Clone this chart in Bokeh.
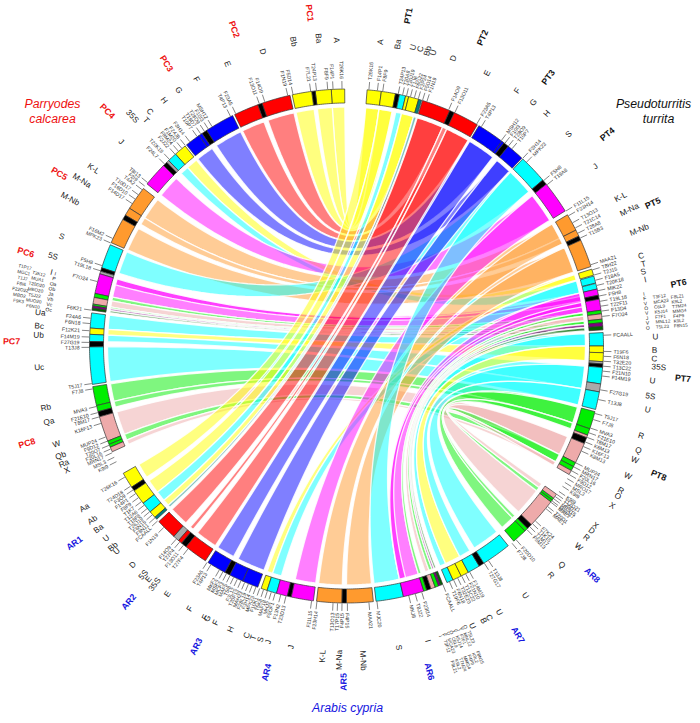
import numpy as np
from bokeh.plotting import figure, ColumnDataSource
from bokeh.core.properties import value
from bokeh.embed import file_html
from bokeh.resources import INLINE

Y, R, B, C, M, O, G = "#ffff00", "#ff0000", "#0000ff", "#00ffff", "#ff00ff", "#ff9a2e", "#00ee00"
P, K, S, U, T, D = "#eeaaaa", "#000000", "#aaaaaa", "#800080", "#008080", "#006600"

# block edges, degrees clockwise from the top of the circle
PC_PHI = [(0.4,3.4),(3.4,7.0),(7.0,7.8),(7.8,12.2),(12.7,19.2),(19.2,20.2),(20.2,25.8),(26.3,33.0),(33.0,34.2),
          (34.2,35.0),(35.0,38.5),(38.9,41.7),(41.7,43.8),(43.8,44.4),(44.4,45.4),(45.4,50.9),(52.2,57.6),(57.6,59.4),
          (59.4,60.5),(60.5,66.3),(66.8,72.3),(72.3,73.1),(73.1,73.7),(73.7,78.2),(78.2,79.1),(79.1,80.6),(80.6,81.0),
          (81.0,81.5),(81.5,82.0),(82.6,86.0),(86.0,87.4),(87.4,89.0),(89.0,90.2),(90.2,98.6),(99.1,103.4),(103.4,104.8),
          (104.8,106.0),(106.0,111.7),(111.7,112.5),(112.5,113.2),(113.2,114.3)]
PC_COL = [Y,Y,K,Y,R,K,R,B,K,B,B,Y,C,S,K,M,O,O,K,O,C,K,S,M,G,P,G,U,D,C,Y,C,K,C,G,G,K,P,G,G,P]

PT_THETA = [(4.6,7.8),(7.8,11.0),(11.0,11.9),(11.9,13.3),(13.3,14.0),(14.0,16.3),(16.3,17.0),(17.2,23.7),(23.7,24.8),
            (24.8,30.6),(31.0,37.2),(37.2,37.8),(37.8,39.0),(39.0,43.0),(43.3,49.8),(49.8,51.0),(51.0,58.3),(59.3,63.2),
            (63.2,64.7),(64.7,65.7),(65.7,72.0),(72.6,74.0),(74.2,75.8),(75.9,77.2),(77.2,78.6),(78.6,79.5),(79.5,82.0),
            (82.0,82.8),(82.8,84.0),(84.0,84.8),(84.8,85.6),(85.6,86.4),(87.0,90.0),(90.0,91.5),(91.5,93.5),(93.5,94.0),
            (94.0,94.8),(94.8,98.5),(98.5,100.3),(100.3,104.3),(104.8,108.8),(108.8,110.3),(110.3,110.9),(110.9,112.3),
            (112.3,117.0),(117.0,118.0),(118.0,119.0),(119.0,120.0)]
PT_COL = [Y,Y,K,C,Y,Y,T,R,K,R,B,B,K,B,C,K,M,O,O,K,O,Y,C,C,M,K,M,G,P,G,U,D,C,Y,Y,S,K,C,S,C,G,G,P,K,P,G,G,P]

AR_THETA = [(240.3,236.7),(236.7,235.7),(235.7,232.3),(232.3,229.8),(229.8,228.2),(228.2,227.6),(226.9,222.2),(222.2,220.8),
            (220.8,219.9),(219.9,218.6),(218.6,213.3),(212.6,208.2),(208.2,207.0),(207.0,203.8),(203.8,200.2),(199.4,198.0),
            (198.0,195.8),(195.8,193.3),(193.3,192.4),(192.4,187.4),(186.7,181.0),(181.0,180.0),(180.0,174.0),(173.4,167.2),
            (167.2,162.5),(162.5,161.8),(161.8,160.8),(160.8,159.8),(159.8,159.0),(159.0,158.5),(158.5,158.0),(157.0,155.5),
            (155.5,153.5),(153.5,151.7),(151.7,148.9),(148.9,147.7),(147.7,141.0),(139.4,136.0),(136.0,135.2),(135.2,134.0),
            (134.0,127.3),(127.3,126.8),(126.8,126.3),(126.3,125.2)]
AR_COL = [Y,K,Y,C,Y,T,R,S,R,K,R,B,K,B,B,Y,C,M,K,M,O,K,O,C,M,G,K,P,G,U,D,C,Y,Y,C,K,C,G,G,K,P,G,G,P]

# which blocks are joined: first,last block in one genome and first,last block in Pseudoturritis
PC_LINKS = [(0,0,0,0),(1,1,1,1),(3,3,4,5),(4,4,7,7),(6,6,9,9),(7,7,10,11),(9,10,13,13),(11,11,21,21),(12,12,22,23),
            (15,15,16,16),(16,16,17,17),(17,17,18,18),(19,19,20,20),(20,20,14,14),(23,23,24,26),(24,24,27,27),(25,25,28,28),
            (26,26,29,29),(27,27,30,30),(28,28,31,31),(29,29,32,32),(30,30,33,34),(31,31,37,38),(33,33,39,39),(34,34,40,40),
            (35,35,41,41),(37,37,44,44),(38,39,45,46),(40,40,47,47)]
AR_LINKS = [(0,0,0,0),(2,2,1,1),(3,3,3,3),(4,4,4,5),(5,5,6,6),(6,6,7,7),(8,8,8,8),(10,10,9,9),(11,11,10,11),(13,14,13,13),
            (15,15,21,21),(16,16,22,23),(19,19,16,16),(20,20,17,18),(22,22,20,20),(23,23,14,14),(24,24,24,26),(25,25,27,27),
            (27,27,28,28),(28,28,29,29),(29,29,30,30),(30,30,31,31),(31,31,32,32),(32,33,33,34),(34,34,37,38),(36,36,39,39),
            (37,37,40,40),(38,38,41,41),(40,40,44,44),(41,42,45,46),(43,43,47,47)]
# darker magenta bands: (outer span, Pseudoturritis span)
PC_BAND = [(360-73.7,360-75.2,78.0,79.2)]
AR_BAND = [(167.2,165.7,79.5,80.6)]

PC_GROUPS = ["PC1","PC2","PC3","PC4","PC5","PC6","PC7","PC8"]
PC_GROUP_PHI = [6.3,19.5,32.5,45.5,59,73.7,89.2,106.9]
PT_GROUPS = ["PT1","PT2","PT3","PT4","PT5","PT6","PT7","PT8"]
PT_GROUP_T = [10.6,23.8,36.9,50.9,65,79.3,95.5,112.5]
AR_GROUPS = ["AR1","AR2","AR3","AR4","AR5","AR6","AR7","AR8"]
AR_GROUP_T = [234.1,220.4,206.6,193.8,180.5,165.7,149.3,133]

PC_LET = ["A","Ba","Bb","D","E","F","G","H","C","T","35S","J","K-L","M-Na","M-Nb","S","5S","I","Ua","Bc","Ub","Uc","Rb","Qa","W","Qb","Ra","X"]
PC_LET_PHI = [1.9,5.2,9.9,15.9,22.9,29.4,33.3,36.6,40,41.6,43,47.8,55,58,62,69,73,76,83.8,86.3,88,94,101.6,104.3,108.7,111,112.6,114]
PC_LET_R = [306,309,309,306,306,306,306,306,306,302,314,304,309,312,313,305,307,304,308,308,308,308,307,307,306,306,306,306]
PT_LET = ["A","Ba","U","C","Bb","U","D","E","F","G","H","S","J","K-L","M-Na","M-Nb","C","T","S","I","U","B","C","35S","U","5S","U","R","Q","W","W","R","O","X"]
PT_LET_T = [6.4,9.7,12.6,14,15.4,16.5,20.4,27.3,33.8,37.5,40.8,46.4,54.2,61.5,64.3,68.4,73,74.6,76,77.5,88.3,90.8,92.4,93.9,96.5,99.4,102,107,109.7,111.6,114.8,117.8,119,121]
PT_LET_R = [306,306,306,306,306,306,307,307,307,307,307,307,307,312,314,315,308,308,306,306,309,308,308,313,308,308,308,308,310,310,310,310,310,310]
AR_LET = ["Aa","Ab","Ba","U","Bb","U","D","5S","E","35S","E","F","F","G","F","H","C","T","S","J","J","K-L","M-Na","M-Nb","S","I","U","B","C","U","U","R","Q","W","R","D","X"]
AR_LET_T = [238.3,235.6,233.6,231.3,229.3,228.2,224.3,221.6,220.3,218.8,215.8,210.8,207.5,207,205.3,202.2,199,197.7,196.3,194.8,190.4,184.4,181.3,177,170.2,164.6,155.8,153.5,152.3,150.2,144.4,138.3,135.5,130.9,128.6,127,125.8]
AR_LET_R = [308]*6+[306]*15+[311,314,315,306,306]+[307]*11

PC_GENES = ["T26K16","F14P1","F8F9","T24P13","F7L21","F5D14","F1N19","F14O9","F13O11","F23A5","T4P13","MSH12","F10I3","T28O9","T19D7","T10P7",
            "F3H14","F24J8","F1M20","F8M24","F2J22","T20K18","F24L7","T8I13","F2I9","T4A2","T10D17","F16D10","F14D17","F16M2","MPK23","F5H8","T19L18",
            "F7O24","F6K21","F24A6","F6N18","F12K21","F14M19","F27G19","T13J8","T5J17","F7J8","MVA3","F21E10","T8M17","K16F13","MUP24","F9D12","T20O7","F20L16","MRN17","MSL3","K9I9"]
PC_GENE_PHI = [1,3,4.2,6.7,8,12,13.2,18.5,19.8,25.5,26.8,31.5,32.5,33.5,34.5,35.5,37.5,38.8,39.8,40.8,41.8,43.5,45,50.6,51.6,52.6,54,55.2,56.4,65.3,66.4,71.8,73,
               75.5,82,83.8,85,86.6,88,89.2,90.3,98.4,99.6,103.6,105,106,107.5,110.7,111.7,112.7,113.6,114.5,115.6,116.7]
PT_GENES = ["T26K16","F14P1","F8F9","T24P13","T20A8","T20J19","T1J8","F6G22","F2P24","F5D14","F1N19","F14O9","F13O11","F23A5","T4P13","MSH12","F10I3","T28O9","T10P7",
            "F3H14","MPK23","F5H8","T19A8","F11L15","F23H14","T13O13","T21C14","T28A8","T15B3","MAA21","T8H22","T2J15","F18A5","T20K18","MIK22","F5H8","T19L18","T22F11","F13D4","F7O24",
            "FCAALL","T19F6","F6N18","T32E20","T13C22","F21N10","F14M19","F27G19","T13J8","T5J17","F7J8","MVA3","F21E10","T8M17","K6M13","K16F13","K8M13","MUP24","MRN17","F20L16","F9D12","MRO17","MSL3","K9I9"]
PT_GENE_T = [5,6.9,8.1,11.6,12.6,13.5,14.4,15.3,16.2,17.2,18.2,23.4,24.9,30.4,31.6,37,38,39,40,
             43.2,44.4,50,51.2,58.4,59.6,61.4,62.7,64,65.2,71.6,72.8,74,75.2,76.4,77.6,78.8,80,81.1,82.2,83.4,
             87.6,91.2,92.3,93.4,94.5,95.6,96.7,99.8,102,105.2,106.6,108.6,109.7,110.8,111.9,113,114.1,117,118,119,120,121,122,123]
AR_GENES = ["T26K16","T24D18","F3O9","F14P1","F8F9","T1K7","T12A6","T18F8","T26J19","F6N15","F8N11","FCAALL","F1N19","F14O9","T27P4","F13O11","T27F4",
            "F23A5","T4P13","MKF2","MSF2","MCF3","MAF5","T5I8","F3L12","T20F13","MAH23","F28L19","F3H14","MPK23","F10K1","T5K8","MAF18","MHJ2","F5OF1","F13N2","T23D13",
            "F11L15","F23H14","T13O13","T17P15","F4P15","F4P15","MAA21","MJC20","MKJ8","T8J22","F23I14","FCAALL","T19F6","F6N18","T32E20","T13C22","F21N10","F14M19","T27G17","T13J8",
            "F7J8","F20D10","F5M13","T1M17","T1K15","F7K24","MAE1","T20D1","MAE1","MRO17","MRN15","T20D7","T12O21","K9I9"]
AR_GENE_T = [239.4,237,236,235,233.9,232.8,231.8,230.8,229.9,229,228.1,227.2,225.2,221.4,220.4,219.3,218,
             212.8,211.8,209.6,208.7,207.8,206.9,206,205.1,204.2,203.3,202.4,201.5,200.6,199.7,198.8,197.9,197,196.1,194.8,193.6,
             187.8,186.6,183,182,181,179.8,175,173.2,166,164.5,163,158,156.4,155.4,154.4,153.4,152.4,151.4,147.6,146.5,
             140,138.8,135.5,134.6,133.7,132.8,129.2,128.6,127.4,127,126.4,125.8,125.2,124.4]

SIDE_L = ["I","P","Oa","Ob","Ja","Vb","Vc","Oc"]
SIDE_C2 = ["T3K12","MUA1","T20D20","MBO20","T5J22","MUO20","F6N10"]
SIDE_C1 = ["T1P17","MGC1","T1J7","F8I6","F22O22","MBD2","F9K3"]
PT_SIDE_L = ["I","F","V","O","V","J","V","O"]
PT_SIDE_C2 = ["T3F12","MCA23","C6L9","K5J14","F7F1","MNL12","T5L23"]
PT_SIDE_C3 = ["F8L21","K9L2","T7M24","MMG4","F4P9","K9L2","F8N15"]
AR_SIDE_L = ["I","F","V","O","V","J","V","O"]
AR_SIDE_C2 = ["T3F12","MCA23","C6L9","K5J14","F7F1","MNL12","T5L23"]
AR_SIDE_C3 = ["F8L21","K9L2","T7M24","MMG4","F4P9","K9L2","F8N15"]

W, H = 692, 715
CX, CY = 346.0, 377.5
R_OUT, R_IN, R_RIB = 257.0, 243.0, 239.0

def pol(t, r):
    a = np.radians(t)
    return CX + r*np.sin(a), CY + r*np.cos(a)

def arc(t0, t1, r):
    n = max(2, int(abs(t1-t0)*2)+2)
    return pol(np.linspace(t0, t1, n), r)

def bez(t0, t1):
    x0, y0 = pol(t0, R_RIB); x2, y2 = pol(t1, R_RIB)
    s = np.linspace(0, 1, 50)
    return (1-s)**2*x0+2*s*(1-s)*CX+s**2*x2, (1-s)**2*y0+2*s*(1-s)*CY+s**2*y2

def ribbon(a0, a1, b0, b1):
    xa, ya = arc(a0, a1, R_RIB)
    x1, y1 = bez(a1, b1)
    xb, yb = arc(b1, b0, R_RIB)
    x2, y2 = bez(b0, a0)
    return np.concatenate([xa,x1,xb,x2]).tolist(), np.concatenate([ya,y1,yb,y2]).tolist()

p = figure(width=W, height=H, x_range=(0, 692), y_range=(8, 723), output_backend="svg",
           toolbar_location=None, min_border=0)
p.axis.visible = False
p.grid.visible = False
p.outline_line_color = None
p.background_fill_color = "white"

PC_T = [(360-a, 360-b) for a, b in PC_PHI]
xs, ys, cs = [], [], []
for first, last, pf, pl in PC_LINKS:
    x, y = ribbon(PC_T[first][0], PC_T[last][1], PT_THETA[pf][0], PT_THETA[pl][1])
    xs.append(x); ys.append(y); cs.append(PC_COL[first])
for a0, a1, b0, b1 in PC_BAND:
    x, y = ribbon(a0, a1, b0, b1); xs.append(x); ys.append(y); cs.append(M)
for first, last, pf, pl in AR_LINKS:
    x, y = ribbon(AR_THETA[first][0], AR_THETA[last][1], PT_THETA[pf][0], PT_THETA[pl][1])
    xs.append(x); ys.append(y); cs.append(AR_COL[first])
for a0, a1, b0, b1 in AR_BAND:
    x, y = ribbon(a0, a1, b0, b1); xs.append(x); ys.append(y); cs.append(M)
p.patches(xs, ys, fill_color=cs, fill_alpha=0.5, line_color="white", line_width=1.3, line_alpha=0.85)

xs, ys, cs = [], [], []
for spans, cols in ((PC_T, PC_COL), (PT_THETA, PT_COL), (AR_THETA, AR_COL)):
    for (a, b), col in zip(spans, cols):
        xo, yo = arc(a, b, R_OUT); xi, yi = arc(b, a, R_IN)
        xs.append(np.concatenate([xo, xi]).tolist()); ys.append(np.concatenate([yo, yi]).tolist()); cs.append(col)
p.patches(xs, ys, fill_color=cs, line_color="#333333", line_width=0.7)

def radial(labels, thetas, rs, size, color, style="normal", mode="center", font="Liberation Sans"):
    rs = np.full(len(labels), rs, dtype=float) if np.isscalar(rs) else np.array(rs, dtype=float)
    thetas = np.array(thetas, dtype=float)
    right = thetas < 180
    for side in (True, False):
        m = right == side
        if not m.any():
            continue
        x, y = pol(thetas[m], rs[m])
        ang = np.radians(90-thetas[m]) if side else np.radians(270-thetas[m])
        src = ColumnDataSource(dict(x=x, y=y, t=[l for l, k in zip(labels, m) if k], a=ang))
        al = mode if mode == "center" else ("left" if side else "right")
        p.text("x", "y", text="t", angle="a", source=src, text_font=value(font), text_font_size=size,
               text_color=color, text_font_style=style, text_align=al, text_baseline="middle")

def ticks(thetas):
    t = np.array(thetas, dtype=float)
    x0, y0 = pol(t, R_OUT+0.5); x1, y1 = pol(t, R_OUT+8)
    p.segment(x0, y0, x1, y1, line_color="#333333", line_width=0.6)

pc_gene_t = [360-a for a in PC_GENE_PHI]
ticks(pc_gene_t); ticks(PT_GENE_T); ticks(AR_GENE_T)
radial(PC_GENES, pc_gene_t, 267, "5.2px", "#333333", mode="out")
radial(PT_GENES, PT_GENE_T, 267, "5.2px", "#333333", mode="out")
radial(AR_GENES, AR_GENE_T, 267, "5.2px", "#333333", mode="out")

radial(PC_LET, [360-a for a in PC_LET_PHI], PC_LET_R, "8.2px", "#222222")
radial(PT_LET, PT_LET_T, PT_LET_R, "8.2px", "#222222")
radial(AR_LET, AR_LET_T, AR_LET_R, "8.2px", "#222222")

radial(PC_GROUPS, [360-a for a in PC_GROUP_PHI], [335,336,335,335,335,334,335,334], "8.8px", "#ee1111", "bold")
radial(PT_GROUPS, PT_GROUP_T, [336,337,336,336,338,338,338,338], "8.8px", "#111111", "bold")
radial(AR_GROUPS, AR_GROUP_T, 336, "8.8px", "#1515e0", "bold")

radial(SIDE_L, [360-a for a in np.linspace(76.0, 83.0, 8)], 300, "5px", "#222222")
radial(SIDE_C2, [360-a for a in np.linspace(76.8, 82.8, 7)], 316, "4.6px", "#333333")
radial(SIDE_C1, [360-a for a in np.linspace(76.2, 82.2, 7)], 331, "4.6px", "#333333")
radial(PT_SIDE_L, np.linspace(80.0, 86.5, 8), 302, "5px", "#222222")
radial(PT_SIDE_C2, np.linspace(81.0, 86.5, 7), 310, "4.6px", "#333333", mode="out")
radial(PT_SIDE_C3, np.linspace(81.5, 86.5, 7), 328, "4.6px", "#333333", mode="out")
radial(AR_SIDE_L, np.linspace(162.0, 157.0, 8), 305, "5px", "#222222")
radial(AR_SIDE_C2, np.linspace(161.5, 156.8, 7), 310, "4.6px", "#333333", mode="out")
radial(AR_SIDE_C3, np.linspace(161.5, 156.8, 7), 332, "4.6px", "#333333", mode="out")

TITLES = ["Parryodes", "calcarea", "Pseudoturritis", "turrita", "Arabis cypria"]
TITLE_X = [52, 52, 653, 658, 347]
TITLE_Y = [723-103, 723-118, 723-103, 723-118, 723-707]
TITLE_C = ["#ee1111", "#ee1111", "#111111", "#111111", "#1515e0"]
p.text(TITLE_X, TITLE_Y, text=TITLES, text_color=TITLE_C, text_font=value("Liberation Sans"), text_font_size="12.3px",
       text_font_style="italic", text_align="center", text_baseline="middle")

open("out.html", "w").write(file_html(p, INLINE))
